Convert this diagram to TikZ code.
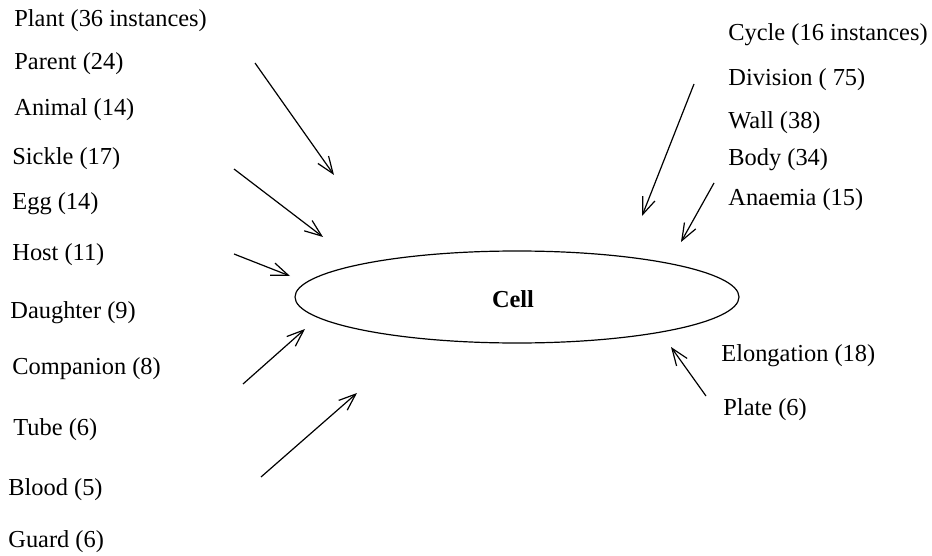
\documentclass[tikz,border=0pt]{standalone}
\usepackage{fontspec}
\setmainfont{Liberation Serif}
\usetikzlibrary{arrows.meta,shapes.geometric}
\tikzset{
  term/.style={anchor=west, inner sep=0pt, yshift=-1pt, font=\fontsize{12.2}{14}\selectfont},
  link/.style={line width=0.6pt, -{Straight Barb[length=8.5pt,width=6.5pt,line width=0.6pt]}}
}
\begin{document}
\begin{tikzpicture}[x=0.5pt,y=-0.5pt]
                \useasboundingbox (0,0) rectangle (932,556);
                \node[draw, line width=0.6pt, ellipse, minimum width=222pt, minimum height=46pt, inner sep=0pt] (cell) at (517,297) {};
                \node[font=\fontsize{12.2}{14}\selectfont\bfseries] (celltext) at (513,299) {Cell};
                \node[term] (plant) at (14,19) {Plant (36 instances)};
                \node[term] (parent) at (14,62) {Parent (24)};
                \node[term] (animal) at (14,108) {Animal (14)};
                \node[term] (sickle) at (12,157) {Sickle (17)};
                \node[term] (egg) at (12,202) {Egg (14)};
                \node[term] (host) at (12,253) {Host (11)};
                \node[term] (daughter) at (10,311) {Daughter (9)};
                \node[term] (companion) at (12,367) {Companion (8)};
                \node[term] (tube) at (13,428) {Tube (6)};
                \node[term] (blood) at (8,488) {Blood (5)};
                \node[term] (guard) at (8,540) {Guard (6)};
                \node[term] (cycle) at (728,33) {Cycle (16 instances)};
                \node[term] (division) at (728,78) {Division ( 75)};
                \node[term] (wall) at (728,121) {Wall (38)};
                \node[term] (body) at (728,158) {Body (34)};
                \node[term] (anaemia) at (728,198) {Anaemia (15)};
                \node[term] (elongation) at (721,354) {Elongation (18)};
                \node[term] (plate) at (723,408) {Plate (6)};
                \coordinate (a1) at (255,63);  \coordinate (b1) at (334,175);
                \coordinate (a2) at (234,169); \coordinate (b2) at (323,237);
                \coordinate (a3) at (234,254); \coordinate (b3) at (290,276);
                \coordinate (a4) at (243,384); \coordinate (b4) at (305,329);
                \coordinate (a5) at (261,477); \coordinate (b5) at (357,393);
                \coordinate (a6) at (694,84);  \coordinate (b6) at (642,216);
                \coordinate (a7) at (714,183); \coordinate (b7) at (681,242);
                \coordinate (a8) at (706,396); \coordinate (b8) at (671,347);
                \draw[link] (a1) -- (b1);
                \draw[link] (a2) -- (b2);
                \draw[link] (a3) -- (b3);
                \draw[link] (a4) -- (b4);
                \draw[link] (a5) -- (b5);
                \draw[link] (a6) -- (b6);
                \draw[link] (a7) -- (b7);
                \draw[link] (a8) -- (b8);
            \end{tikzpicture}
\end{document}
